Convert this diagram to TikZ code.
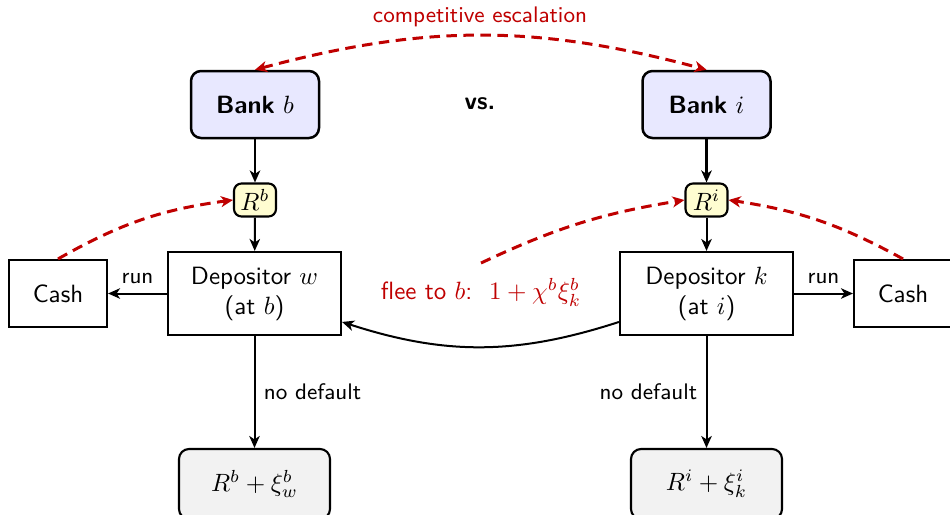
\documentclass[tikz,border=0pt]{standalone}
\usetikzlibrary{arrows.meta,calc}
\colorlet{accent}{red!75!black}
\tikzset{
  base/.style={draw, line width=0.85pt, font=\sffamily, inner sep=0pt, align=center},
  bankbox/.style={base, line width=1pt, rounded corners=4pt, fill=blue!9, minimum width=51.2pt, minimum height=26.8pt},
  rbox/.style={base, rounded corners=3pt, fill=yellow!18, minimum width=16.8pt, minimum height=13.2pt},
  depbox/.style={base, minimum width=69.2pt, minimum height=33.2pt},
  cashbox/.style={base, minimum width=39.2pt, minimum height=26.8pt},
  outbox/.style={base, rounded corners=4pt, fill=black!5, minimum width=60.4pt, minimum height=28pt},
  arr/.style={-{Stealth[length=4.8pt,width=4.2pt,inset=1.4pt]}, line width=0.8pt},
  redarr/.style={-{Stealth[length=4.8pt,width=4.4pt,inset=1.4pt]}, draw=accent, line width=1.2pt, dash pattern=on 4.2pt off 2.6pt},
  redboth/.style={{Stealth[length=4.8pt,width=4.4pt,inset=1.4pt]}-{Stealth[length=4.8pt,width=4.4pt,inset=1.4pt]}},
  lbl/.style={font=\sffamily\small},
}
\begin{document}
\begin{tikzpicture}[x=0.4pt,y=0.4pt]
\useasboundingbox (0,0) rectangle (950,-514);

\node[bankbox] (bankb) at (255,-104.5) {\textbf{Bank} $b$};
\node[bankbox] (banki) at (706.5,-104.5) {\textbf{Bank} $i$};
\node[font=\sffamily\bfseries] (vs) at (480,-104) {vs.};

\node[rbox] (rb) at (255,-200) {$R^b$};
\node[rbox] (ri) at (706.5,-200) {$R^i$};

\node[depbox] (depw) at (254.5,-293.5) {Depositor $w$\\(at $b$)};
\node[depbox] (depk) at (706.5,-293.5) {Depositor $k$\\(at $i$)};

\node[cashbox] (cashl) at (58,-293.5) {Cash};
\node[cashbox] (cashr) at (903,-293.5) {Cash};

\node[outbox] (outb) at (254.5,-484) {$R^b+\xi^b_w$};
\node[outbox] (outi) at (706.5,-484) {$R^i+\xi^i_k$};

\node[lbl, text=accent] (esc) at (480,-17) {competitive escalation};
\node[font=\sffamily, text=accent] (flee) at (481,-292) {flee to $b$:\ \ $1+\chi^b\xi^b_k$};
\coordinate (fleetop) at ($(flee.north)+(0,6)$);

% black connectors
\draw[arr, line width=1pt] (bankb) -- (rb);
\draw[arr, line width=1pt] (banki) -- (ri);
\draw[arr] (rb) -- (depw);
\draw[arr] (ri) -- (depk);
\draw[arr] (depw) -- node[lbl, above] {run} (cashl);
\draw[arr] (depk) -- node[lbl, above] {run} (cashr);
\draw[arr] (depw) -- node[lbl, right] {no default} (outb);
\draw[arr] (depk) -- node[lbl, left] {no default} (outi);
\draw[arr] (depk.198) to[bend left=18] (depw.-18);

% red dashed connectors
\draw[redarr, redboth] (bankb.north) to[bend left=15] (banki.north);
\draw[redarr] (cashl.north) to[bend left=11] (rb.west);
\draw[redarr] (cashr.north) to[bend right=10] (ri.east);
\draw[redarr] (fleetop) to[bend left=8] (ri.west);
\end{tikzpicture}
\end{document}
